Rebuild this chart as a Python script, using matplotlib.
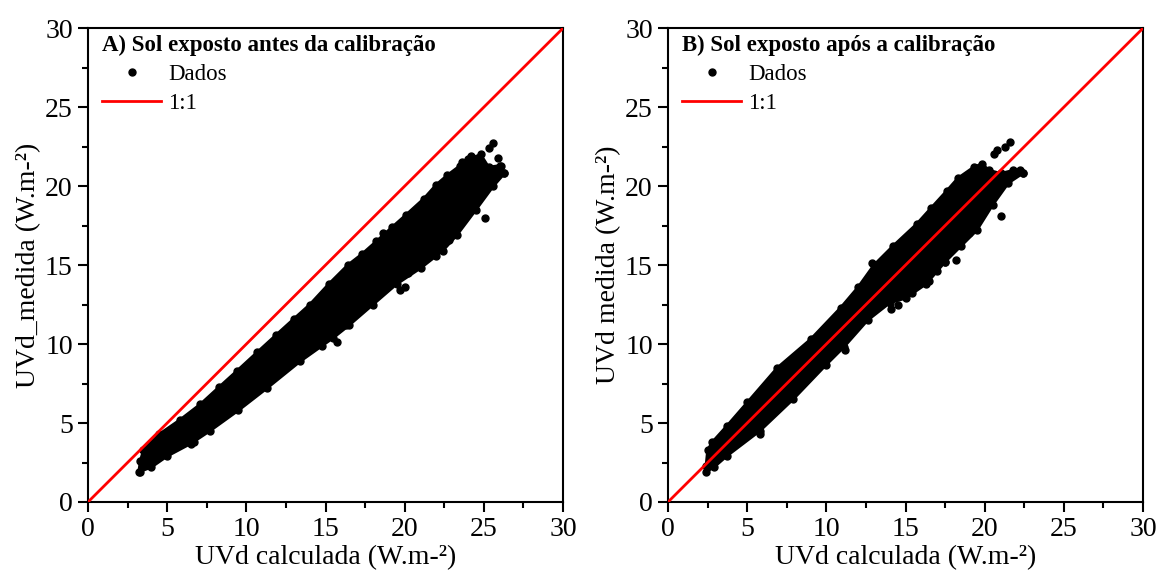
import matplotlib.pyplot as plt
from matplotlib.ticker import MultipleLocator
from matplotlib.lines import Line2D

plt.rcParams['font.family'] = ['Liberation Serif', 'DejaVu Serif']

# Painel A - envelope da nuvem de pontos (antes da calibracao)
a_up_x = [3.3, 3.5, 4.5, 5.8, 7.1, 8.3, 9.4, 10.7, 11.9, 13.0, 14.0, 15.2, 16.4, 17.3, 18.2,
          19.2, 20.1, 21.2, 22.0, 22.7, 23.5, 24.0, 24.8, 25.3, 26.0, 26.3]
a_up_y = [2.6, 3.3, 4.3, 5.2, 6.2, 7.3, 8.3, 9.5, 10.6, 11.6, 12.5, 13.8, 15.0, 15.7, 16.5,
          17.4, 18.2, 19.2, 20.1, 20.7, 21.3, 21.7, 22.0, 21.2, 21.3, 20.8]
a_lo_x = [26.3, 25.6, 24.5, 23.3, 22.4, 21.0, 19.5, 18.0, 16.5, 15.5, 13.4, 11.3, 9.5, 7.7,
          6.5, 5.0, 4.0, 3.2]
a_lo_y = [20.8, 20.0, 18.5, 16.9, 15.9, 14.8, 13.8, 12.5, 11.2, 10.4, 8.9, 7.2, 5.8, 4.5,
          3.7, 2.9, 2.2, 1.9]
a_out_x = [25.6, 25.3, 24.2, 23.6, 26.1, 25.9, 25.1, 19.7, 20.0, 22.0, 21.5, 16.3, 15.7, 14.8,
           17.5, 6.7, 3.3, 20.2, 21.8, 22.8, 24.6, 23.9, 18.6, 12.6]
a_out_y = [22.7, 22.4, 21.9, 21.5, 21.3, 21.8, 18.0, 13.4, 13.6, 15.6, 15.9, 11.2, 10.1, 9.9,
           13.2, 3.8, 1.9, 14.5, 16.2, 16.6, 20.5, 18.4, 17.0, 9.8]

# Painel B - envelope da nuvem de pontos (apos a calibracao)
b_up_x = [2.4, 2.5, 2.8, 3.7, 5.0, 6.9, 9.0, 10.9, 12.0, 13.0, 14.2, 15.7, 16.6, 17.6, 18.3,
          19.3, 19.8, 20.3, 21.0, 21.8, 22.4]
b_up_y = [2.3, 3.3, 3.8, 4.8, 6.3, 8.5, 10.3, 12.3, 13.6, 15.0, 16.2, 17.6, 18.6, 19.7, 20.5,
          21.2, 21.4, 21.0, 20.8, 21.0, 20.8]
b_lo_x = [22.4, 21.5, 20.5, 19.5, 18.5, 17.5, 16.3, 15.0, 14.0, 12.6, 11.1, 10.0, 7.9, 5.8,
          3.7, 2.9, 2.4]
b_lo_y = [20.8, 20.2, 18.8, 17.2, 16.2, 15.2, 13.8, 12.9, 12.6, 11.5, 9.8, 8.7, 6.5, 4.5,
          2.9, 2.2, 1.9]
b_out_x = [21.6, 21.3, 20.8, 20.6, 22.2, 21.0, 20.1, 19.5, 18.2, 17.5, 16.5, 15.4, 14.5, 14.1,
           11.2, 10.7, 5.8, 12.9, 19.0, 17.0]
b_out_y = [22.8, 22.5, 22.3, 22.0, 21.0, 18.1, 18.8, 17.8, 15.3, 15.2, 14.0, 13.2, 12.5, 12.2,
           9.6, 9.9, 4.3, 15.1, 17.0, 14.6]

titles = ['A) Sol exposto antes da calibração', 'B) Sol exposto após a calibração']
ylabels = ['UVd_medida (W.m-²)', 'UVd medida (W.m-²)']
xlabel = 'UVd calculada (W.m-²)'
one_one = [0, 30]

fig = plt.figure(figsize=(11.6, 5.8), dpi=100)
ax_a = fig.add_axes([0.0759, 0.1345, 0.4095, 0.817])
ax_b = fig.add_axes([0.5759, 0.1345, 0.4095, 0.817])

panels = [
    (ax_a, a_up_x, a_up_y, a_lo_x, a_lo_y, a_out_x, a_out_y),
    (ax_b, b_up_x, b_up_y, b_lo_x, b_lo_y, b_out_x, b_out_y),
]

for i, (ax, ux, uy, lx, ly, ox, oy) in enumerate(panels):
    ax.fill(ux + lx, uy + ly, color='black', lw=2, ec='black', zorder=2)
    ax.plot(ux + lx, uy + ly, 'o', color='black', ms=5, zorder=2)
    ax.plot(ox, oy, 'o', color='black', ms=5, zorder=2)
    ax.plot(one_one, one_one, color='red', lw=2, zorder=3)

    ax.set_xlim(0, 30)
    ax.set_ylim(0, 30)
    ax.xaxis.set_major_locator(MultipleLocator(5))
    ax.yaxis.set_major_locator(MultipleLocator(5))
    ax.xaxis.set_minor_locator(MultipleLocator(2.5))
    ax.yaxis.set_minor_locator(MultipleLocator(2.5))
    ax.tick_params(which='both', direction='out', top=False, right=False, width=1.5,
                   labelsize=20, colors='black')
    ax.tick_params(which='major', length=7, pad=4)
    ax.tick_params(which='minor', length=4)
    for sp in ax.spines.values():
        sp.set_linewidth(1.5)
    ax.set_xlabel(xlabel, fontsize=20, labelpad=2)
    ax.set_ylabel(ylabels[i], fontsize=20, labelpad=3)

    handles = [Line2D([], [], marker='o', ls='none', color='black', ms=5),
               Line2D([], [], color='red', lw=2)]
    leg = ax.legend(handles, ['Dados', '1:1'], title=titles[i], loc='upper left',
                    bbox_to_anchor=(0.0, 1.015), frameon=False, fontsize=16.5,
                    title_fontproperties={'weight': 'bold', 'size': 16.5},
                    alignment='left', borderaxespad=0.3, handlelength=2.6, handletextpad=0.3,
                    labelspacing=0.35, borderpad=0.3)

fig.savefig('out.png', dpi=100)
